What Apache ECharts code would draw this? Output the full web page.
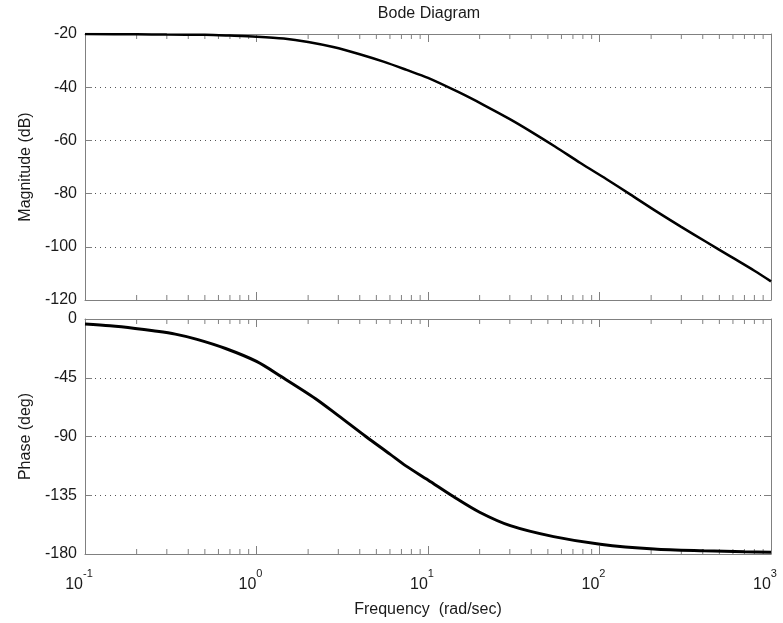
<!DOCTYPE html>
<html>
<head>
    <meta http-equiv="Content-Type" content="text/html; charset=utf-8" />
    <style type="text/css">
        body, html, #main {
            margin: 0;
            width: 100%;
            height: 100%;
            overflow: hidden;
            background: #fff;
        }
    </style>
    <script type="text/javascript" src="https://cdn.jsdelivr.net/npm/echarts@6/dist/echarts.min.js"></script>
    <title>Bode Diagram</title>
</head>
<body>
    <div id="main" style="width:783px;height:623px;"></div>
</body>
</html>
<script type="text/javascript">
    // 数据
    var magFreq = [0.1, 0.2, 0.3, 0.5, 0.7, 1, 1.44, 2, 2.8, 4, 5.5, 7.5, 10, 15, 21.3, 30, 39.4, 55, 77.4, 110, 151, 210, 298, 420, 583, 800, 1000];
    var magDb = [-20.0, -20.1, -20.2, -20.3, -20.6, -21.0, -21.7, -23.0, -24.9, -27.6, -30.4, -33.5, -36.5, -41.8, -46.8, -52.0, -56.5, -62.3, -68.5, -74.6, -80.3, -86.3, -92.4, -98.2, -103.7, -109.0, -113.0];

    var phaseFreq = [0.1, 0.14, 0.196, 0.25, 0.336, 0.45, 0.66, 1, 1.41, 2.21, 3, 4.34, 6, 7.43, 10, 14.06, 20, 30.2, 54, 101, 208, 407, 700, 1000];
    var phaseDeg = [-3.8, -5.2, -7.2, -9.0, -11.6, -15.6, -22.6, -32.5, -44.5, -61.0, -74.0, -90.0, -103.5, -112.5, -123.3, -136.0, -148.0, -158.3, -166.7, -172.5, -176.2, -177.6, -178.3, -178.6];

    // 坐标轴刻度
    var decades = [0.1, 1, 10, 100];
    var minorMults = [2, 3, 4, 5, 6, 7, 8, 9];
    var magTicks = { min: -120, max: -20, step: 20 };
    var phaseTicks = { min: -180, max: 0, step: 45 };

    var minorTicks = [];
    for (var i = 0; i < decades.length; i++) {
        for (var j = 0; j < minorMults.length; j++) {
            minorTicks.push(decades[i] * minorMults[j]);
        }
    }

    var lineColor = '#808080';
    var textColor = '#1a1a1a';
    var fontName = 'Liberation Sans, Arial, sans-serif';

    function xAxisCfg(gridIndex, position, showLabel) {
        return {
            type: 'log',
            logBase: 10,
            gridIndex: gridIndex,
            position: position,
            min: 0.1,
            max: 1000,
            interval: 1,
            axisLine: { show: true, onZero: false, lineStyle: { color: lineColor, width: 1 } },
            axisTick: { show: true, inside: true, length: 8, lineStyle: { color: lineColor } },
            axisLabel: {
                show: showLabel,
                margin: 14,
                padding: [0, 12, 0, 0],
                formatter: function (v) {
                    var e = Math.round(Math.log(v) / Math.LN10);
                    return '{b|10}{e|' + e + '}';
                },
                rich: {
                    b: { fontSize: 16, fontFamily: fontName, color: textColor, padding: [9, 0, 0, 0], verticalAlign: 'bottom' },
                    e: { fontSize: 11, fontFamily: fontName, color: textColor, verticalAlign: 'top' }
                }
            },
            splitLine: { show: false }
        };
    }

    function yAxisCfg(gridIndex, position, ticks, name) {
        var left = position == 'left';
        return {
            type: 'value',
            gridIndex: gridIndex,
            position: position,
            min: ticks.min,
            max: ticks.max,
            interval: ticks.step,
            name: left ? name : '',
            nameLocation: 'middle',
            nameGap: 51,
            nameTextStyle: { fontSize: 16, fontFamily: fontName, color: textColor },
            axisLine: { show: true, onZero: false, lineStyle: { color: lineColor, width: 1 } },
            axisTick: { show: true, inside: true, length: 7, lineStyle: { color: lineColor } },
            axisLabel: { show: left, margin: 8, fontSize: 16, fontFamily: fontName, color: textColor },
            splitLine: { show: left, lineStyle: { color: '#555', width: 1, type: [1, 4] } }
        };
    }

    // 对数刻度的次刻度线
    function minorTickSeries(xIdx, yIdx, yVal) {
        var data = [];
        for (var i = 0; i < minorTicks.length; i++) data.push([minorTicks[i], yVal]);
        return {
            type: 'custom',
            xAxisIndex: xIdx,
            yAxisIndex: yIdx,
            silent: true,
            clip: false,
            data: data,
            renderItem: function (params, api) {
                var x = api.coord([api.value(0), api.value(1)])[0];
                var r = params.coordSys;
                var s = { stroke: lineColor, lineWidth: 1 };
                return {
                    type: 'group',
                    children: [
                        { type: 'line', shape: { x1: x, y1: r.y, x2: x, y2: r.y + 5 }, style: s },
                        { type: 'line', shape: { x1: x, y1: r.y + r.height - 5, x2: x, y2: r.y + r.height }, style: s }
                    ]
                };
            }
        };
    }

    function pairs(xs, ys) {
        var out = [];
        for (var i = 0; i < xs.length; i++) out.push([xs[i], ys[i]]);
        return out;
    }

    var myChart = echarts.init(document.getElementById('main'));
    var option = {
        backgroundColor: '#fff',
        animation: false,
        title: {
            text: 'Bode Diagram',
            left: 424,
            textAlign: 'center',
            top: 1,
            textStyle: { fontSize: 16, fontWeight: 'normal', fontFamily: fontName, color: textColor }
        },
        grid: [
            { left: 85, top: 34, width: 686, height: 266 },
            { left: 85, top: 319, width: 686, height: 235 }
        ],
        xAxis: [
            xAxisCfg(0, 'bottom', false),
            xAxisCfg(0, 'top', false),
            Object.assign(xAxisCfg(1, 'bottom', true), {
                name: 'Frequency  (rad/sec)',
                nameLocation: 'middle',
                nameGap: 48,
                nameTextStyle: { fontSize: 16, fontFamily: fontName, color: textColor }
            }),
            xAxisCfg(1, 'top', false)
        ],
        yAxis: [
            yAxisCfg(0, 'left', magTicks, 'Magnitude (dB)'),
            yAxisCfg(0, 'right', magTicks, ''),
            yAxisCfg(1, 'left', phaseTicks, 'Phase (deg)'),
            yAxisCfg(1, 'right', phaseTicks, '')
        ],
        series: [
            {
                name: 'Magnitude',
                type: 'line',
                xAxisIndex: 0,
                yAxisIndex: 0,
                data: pairs(magFreq, magDb),
                showSymbol: false,
                smooth: 0.3,
                lineStyle: { color: '#000', width: 2.5 }
            },
            {
                name: 'Phase',
                type: 'line',
                xAxisIndex: 2,
                yAxisIndex: 2,
                data: pairs(phaseFreq, phaseDeg),
                showSymbol: false,
                smooth: 0.3,
                lineStyle: { color: '#000', width: 3 }
            },
            minorTickSeries(0, 0, -20),
            minorTickSeries(2, 2, 0)
        ]
    };
    myChart.setOption(option);
</script>
